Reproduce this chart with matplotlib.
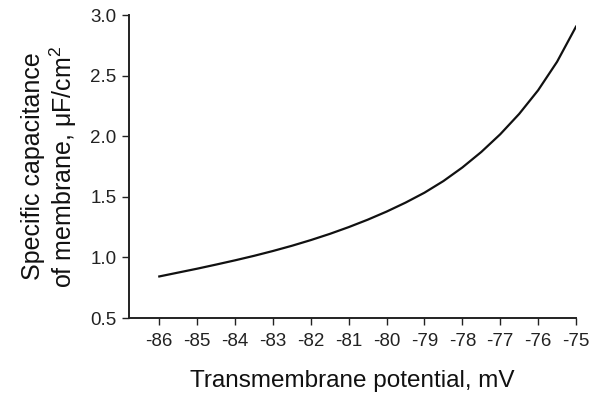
import matplotlib
matplotlib.use("Agg")
import matplotlib.pyplot as plt

plt.rcParams['font.family'] = ['Liberation Sans', 'DejaVu Sans']

# values
potential = [-86, -85.5, -85, -84.5, -84, -83.5, -83, -82.5, -82, -81.5, -81, -80.5,
             -80, -79.5, -79, -78.5, -78, -77.5, -77, -76.5, -76, -75.5, -75]
capacitance = [0.843, 0.875, 0.907, 0.941, 0.976, 1.013, 1.053, 1.096, 1.143, 1.194,
               1.250, 1.311, 1.378, 1.452, 1.534, 1.630, 1.742, 1.870, 2.016, 2.184,
               2.379, 2.614, 2.904]
xticks = list(range(-86, -74))
yticks = [0.5, 1.0, 1.5, 2.0, 2.5, 3.0]

fig = plt.figure(figsize=(5.98, 3.93), dpi=100)
ax = fig.add_axes([0.2157, 0.1908, 0.7475, 0.771])

ax.plot(potential, capacitance, color='#111111', lw=1.6)

ax.set_xlim(-86.8, -75)
ax.set_ylim(0.5, 3.0)
ax.set_xticks(xticks)
ax.set_xticklabels([str(t) for t in xticks])
ax.set_yticks(yticks)
ax.set_yticklabels(['%.1f' % t for t in yticks])

for s in ['top', 'right']:
    ax.spines[s].set_visible(False)
for s in ['left', 'bottom']:
    ax.spines[s].set_linewidth(1.4)
    ax.spines[s].set_color('#222222')

ax.tick_params(axis='both', direction='out', length=5, width=1.0, color='#222222',
               labelsize=13.5, labelcolor='#222222')
ax.tick_params(axis='x', pad=6)
ax.tick_params(axis='y', pad=4)

ax.set_xlabel('Transmembrane potential, mV', fontsize=17.5, color='#111111', labelpad=14)
ax.set_ylabel('Specific capacitance\nof membrane, $\\mathregular{\\mu}$F/cm$^\\mathregular{2}$',
              fontsize=18, color='#111111', labelpad=8, linespacing=1.1)

fig.savefig('out.png', dpi=100)
